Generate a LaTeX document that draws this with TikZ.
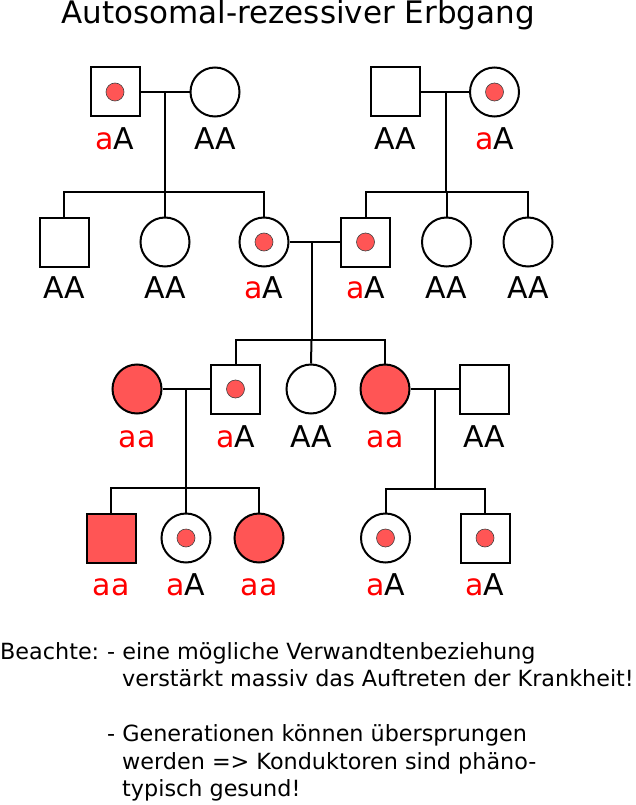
\documentclass[tikz,border=0pt]{standalone}
\usepackage{fontspec}
\setmainfont{DejaVu Sans}
\definecolor{affred}{HTML}{FF5555}
\begin{document}
\begin{tikzpicture}[x=1pt,y=-1pt,
  person/.style={draw, line width=2pt, inner sep=0pt, minimum size=49pt, fill=white},
  male/.style={person, rectangle},
  female/.style={person, circle},
  sick/.style={fill=affred},
  dotmark/.style={circle, draw=black!75, line width=0.6pt, fill=affred, minimum size=18pt, inner sep=0pt},
  gt/.style={font=\fontsize{30}{36}\selectfont, anchor=base, inner sep=0pt},
  link/.style={line width=2pt},
  note/.style={font=\fontsize{22.3}{27}\selectfont, anchor=base west, inner sep=0pt}]
\useasboundingbox (0,0) rectangle (635,805);
\newcommand{\ra}{\textcolor{red}{a}}
% title
\node[font=\fontsize{31}{37}\selectfont, anchor=base, inner sep=0pt] (title) at (298,24) {Autosomal-rezessiver Erbgang};
% generation 1
\node[male] (a1) at (115,92) {};
\node[dotmark] (a1d) at (a1) {};
\node[female] (a2) at (215,92) {};
\node[male] (b1) at (395,92) {};
\node[female] (b2) at (494.5,92) {};
\node[dotmark] (b2d) at (b2) {};
% generation 2
\node[male] (c1) at (64,242) {};
\node[female] (c2) at (165,242) {};
\node[female] (c3) at (264,242) {};
\node[dotmark] (c3d) at (c3) {};
\node[male] (d1) at (365.5,242) {};
\node[dotmark] (d1d) at (d1) {};
\node[female] (d2) at (446.5,242) {};
\node[female] (d3) at (528,242) {};
% generation 3
\node[female, sick] (e1) at (137,389) {};
\node[male] (e2) at (235.5,389) {};
\node[dotmark] (e2d) at (e2) {};
\node[female] (e3) at (311,389) {};
\node[female, sick] (e4) at (385,389) {};
\node[male] (e5) at (484.5,389) {};
% generation 4
\node[male, sick] (f1) at (111,538) {};
\node[female] (f2) at (186,538) {};
\node[dotmark] (f2d) at (f2) {};
\node[female, sick] (f3) at (259,538) {};
\node[female] (g1) at (385.5,538) {};
\node[dotmark] (g1d) at (g1) {};
\node[male] (g2) at (485,538) {};
\node[dotmark] (g2d) at (g2) {};
% junction coordinates
\coordinate (ma) at (165,92);
\coordinate (sa) at (165,192);
\coordinate (mb) at (445.5,92);
\coordinate (sb) at (445.5,192);
\coordinate (mc) at (311.5,242);
\coordinate (sc) at (311.5,340);
\coordinate (me) at (186,389);
\coordinate (se) at (186,488);
\coordinate (mg) at (434.5,389);
\coordinate (sg) at (434.5,489);
% connectors
\draw[link] (a1.east) -- (a2.west);
\draw[link] (ma) -- (sa);
\draw[link] (c1.north) |- (sa) -| (c3.north);
\draw[link] (sa) -- (c2.north);
\draw[link] (b1.east) -- (b2.west);
\draw[link] (mb) -- (sb);
\draw[link] (d1.north) |- (sb) -| (d3.north);
\draw[link] (sb) -| (d2.north);
\draw[link] (c3.east) -- (d1.west);
\draw[link] (mc) -- (sc);
\draw[link] (e2.north) |- (sc) -| (e4.north);
\draw[link] (sc) -- (e3.north);
\draw[link] (e1.east) -- (e2.west);
\draw[link] (me) -- (se);
\draw[link] (f1.north) |- (se) -| (f3.north);
\draw[link] (se) -- (f2.north);
\draw[link] (e4.east) -- (e5.west);
\draw[link] (mg) -- (sg);
\draw[link] (g1.north) |- (sg) -| (g2.north);
% genotype labels
\node[gt] (la1) at (115,150) {\ra A};
\node[gt] (la2) at (215,150) {AA};
\node[gt] (lb1) at (395,150) {AA};
\node[gt] (lb2) at (494.5,150) {\ra A};
\node[gt] (lc1) at (64,298) {AA};
\node[gt] (lc2) at (165,298) {AA};
\node[gt] (lc3) at (264,298) {\ra A};
\node[gt] (ld1) at (365.5,298) {\ra A};
\node[gt] (ld2) at (446.5,298) {AA};
\node[gt] (ld3) at (528,298) {AA};
\node[gt] (le1) at (137,447) {\textcolor{red}{aa}};
\node[gt] (le2) at (235.5,447) {\ra A};
\node[gt] (le3) at (311,447) {AA};
\node[gt] (le4) at (385,447) {\textcolor{red}{aa}};
\node[gt] (le5) at (484.5,447) {AA};
\node[gt] (lf1) at (111,595) {\textcolor{red}{aa}};
\node[gt] (lf2) at (186,595) {\ra A};
\node[gt] (lf3) at (259,595) {\textcolor{red}{aa}};
\node[gt] (lg1) at (385.5,595) {\ra A};
\node[gt] (lg2) at (485,595) {\ra A};
% note
\node[note] (n0) at (0,659) {Beachte:};
\node[note] (n1) at (107,659) {- eine mögliche Verwandtenbeziehung};
\node[note] (n2) at (122,686.5) {verstärkt massiv das Auftreten der Krankheit!};
\node[note] (n3) at (107,741.5) {- Generationen können übersprungen};
\node[note] (n4) at (122,769) {werden => Konduktoren sind phäno-};
\node[note] (n5) at (122,796.5) {typisch gesund!};
\end{tikzpicture}
\end{document}
